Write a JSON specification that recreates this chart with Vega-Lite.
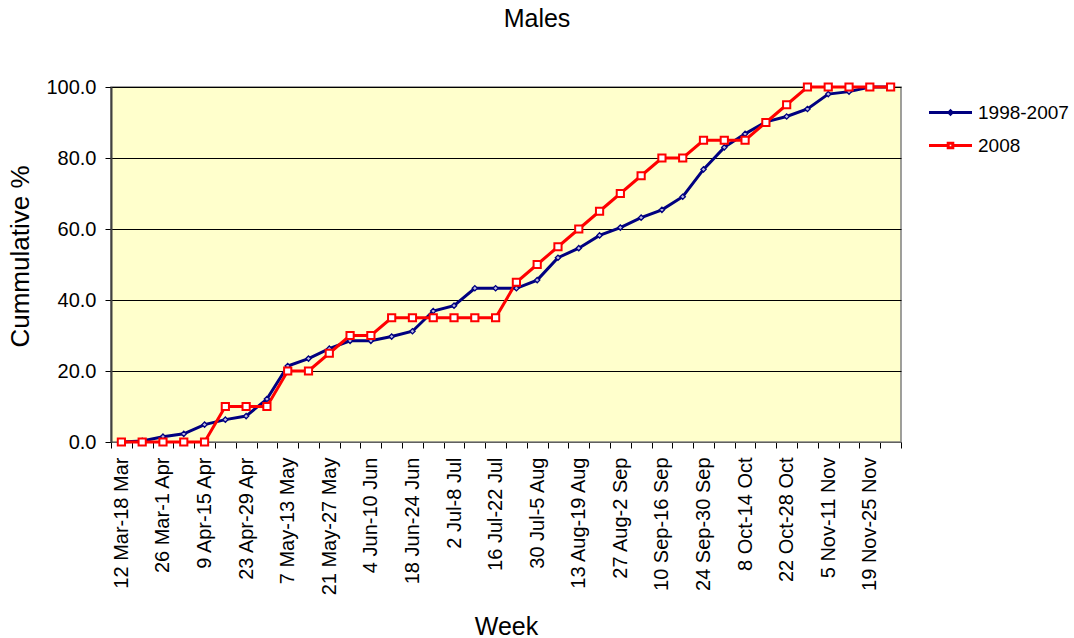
{
  "$schema": "https://vega.github.io/schema/vega-lite/v6.json",
  "autosize": "none",
  "width": 790,
  "height": 355,
  "padding": {"left": 111, "top": 87, "right": 173, "bottom": 196},
  "background": "white",
  "title": {"text": "Males", "fontSize": 25, "font": "Liberation Sans", "fontWeight": "normal", "color": "black", "anchor": "middle", "dx": 31, "offset": 45},
  "config": {
    "font": "Liberation Sans",
    "view": {"fill": "#FFFFCC", "stroke": "#808080", "strokeWidth": 1.5}
  },
  "data": {"values": [
    {"week": "12 Mar-18 Mar", "series": "1998-2007", "value": 0},
    {"week": "19 Mar-25 Mar", "series": "1998-2007", "value": 0.3},
    {"week": "26 Mar-1 Apr", "series": "1998-2007", "value": 1.5},
    {"week": "2 Apr-8 Apr", "series": "1998-2007", "value": 2.3},
    {"week": "9 Apr-15 Apr", "series": "1998-2007", "value": 4.9},
    {"week": "16 Apr-22 Apr", "series": "1998-2007", "value": 6.3},
    {"week": "23 Apr-29 Apr", "series": "1998-2007", "value": 7.3},
    {"week": "30 Apr-6 May", "series": "1998-2007", "value": 12.1},
    {"week": "7 May-13 May", "series": "1998-2007", "value": 21.4},
    {"week": "14 May-20 May", "series": "1998-2007", "value": 23.5},
    {"week": "21 May-27 May", "series": "1998-2007", "value": 26.3},
    {"week": "28 May-3 Jun", "series": "1998-2007", "value": 28.5},
    {"week": "4 Jun-10 Jun", "series": "1998-2007", "value": 28.5},
    {"week": "11 Jun-17 Jun", "series": "1998-2007", "value": 29.7},
    {"week": "18 Jun-24 Jun", "series": "1998-2007", "value": 31.2},
    {"week": "25 Jun-1 Jul", "series": "1998-2007", "value": 36.9},
    {"week": "2 Jul-8 Jul", "series": "1998-2007", "value": 38.4},
    {"week": "9 Jul-15 Jul", "series": "1998-2007", "value": 43.3},
    {"week": "16 Jul-22 Jul", "series": "1998-2007", "value": 43.3},
    {"week": "23 Jul-29 Jul", "series": "1998-2007", "value": 43.3},
    {"week": "30 Jul-5 Aug", "series": "1998-2007", "value": 45.6},
    {"week": "6 Aug-12 Aug", "series": "1998-2007", "value": 51.9},
    {"week": "13 Aug-19 Aug", "series": "1998-2007", "value": 54.6},
    {"week": "20 Aug-26 Aug", "series": "1998-2007", "value": 58.2},
    {"week": "27 Aug-2 Sep", "series": "1998-2007", "value": 60.4},
    {"week": "3 Sep-9 Sep", "series": "1998-2007", "value": 63.2},
    {"week": "10 Sep-16 Sep", "series": "1998-2007", "value": 65.4},
    {"week": "17 Sep-23 Sep", "series": "1998-2007", "value": 69.1},
    {"week": "24 Sep-30 Sep", "series": "1998-2007", "value": 76.8},
    {"week": "1 Oct-7 Oct", "series": "1998-2007", "value": 83.0},
    {"week": "8 Oct-14 Oct", "series": "1998-2007", "value": 86.8},
    {"week": "15 Oct-21 Oct", "series": "1998-2007", "value": 90.2},
    {"week": "22 Oct-28 Oct", "series": "1998-2007", "value": 91.7},
    {"week": "29 Oct-4 Nov", "series": "1998-2007", "value": 93.8},
    {"week": "5 Nov-11 Nov", "series": "1998-2007", "value": 98.0},
    {"week": "12 Nov-18 Nov", "series": "1998-2007", "value": 98.7},
    {"week": "19 Nov-25 Nov", "series": "1998-2007", "value": 100},
    {"week": "26 Nov-2 Dec", "series": "1998-2007", "value": 100},
    {"week": "12 Mar-18 Mar", "series": "2008", "value": 0},
    {"week": "19 Mar-25 Mar", "series": "2008", "value": 0},
    {"week": "26 Mar-1 Apr", "series": "2008", "value": 0},
    {"week": "2 Apr-8 Apr", "series": "2008", "value": 0},
    {"week": "9 Apr-15 Apr", "series": "2008", "value": 0},
    {"week": "16 Apr-22 Apr", "series": "2008", "value": 10},
    {"week": "23 Apr-29 Apr", "series": "2008", "value": 10},
    {"week": "30 Apr-6 May", "series": "2008", "value": 10},
    {"week": "7 May-13 May", "series": "2008", "value": 20},
    {"week": "14 May-20 May", "series": "2008", "value": 20},
    {"week": "21 May-27 May", "series": "2008", "value": 25},
    {"week": "28 May-3 Jun", "series": "2008", "value": 30},
    {"week": "4 Jun-10 Jun", "series": "2008", "value": 30},
    {"week": "11 Jun-17 Jun", "series": "2008", "value": 35},
    {"week": "18 Jun-24 Jun", "series": "2008", "value": 35},
    {"week": "25 Jun-1 Jul", "series": "2008", "value": 35},
    {"week": "2 Jul-8 Jul", "series": "2008", "value": 35},
    {"week": "9 Jul-15 Jul", "series": "2008", "value": 35},
    {"week": "16 Jul-22 Jul", "series": "2008", "value": 35},
    {"week": "23 Jul-29 Jul", "series": "2008", "value": 45},
    {"week": "30 Jul-5 Aug", "series": "2008", "value": 50},
    {"week": "6 Aug-12 Aug", "series": "2008", "value": 55},
    {"week": "13 Aug-19 Aug", "series": "2008", "value": 60},
    {"week": "20 Aug-26 Aug", "series": "2008", "value": 65},
    {"week": "27 Aug-2 Sep", "series": "2008", "value": 70},
    {"week": "3 Sep-9 Sep", "series": "2008", "value": 75},
    {"week": "10 Sep-16 Sep", "series": "2008", "value": 80},
    {"week": "17 Sep-23 Sep", "series": "2008", "value": 80},
    {"week": "24 Sep-30 Sep", "series": "2008", "value": 85},
    {"week": "1 Oct-7 Oct", "series": "2008", "value": 85},
    {"week": "8 Oct-14 Oct", "series": "2008", "value": 85},
    {"week": "15 Oct-21 Oct", "series": "2008", "value": 90},
    {"week": "22 Oct-28 Oct", "series": "2008", "value": 95},
    {"week": "29 Oct-4 Nov", "series": "2008", "value": 100},
    {"week": "5 Nov-11 Nov", "series": "2008", "value": 100},
    {"week": "12 Nov-18 Nov", "series": "2008", "value": 100},
    {"week": "19 Nov-25 Nov", "series": "2008", "value": 100},
    {"week": "26 Nov-2 Dec", "series": "2008", "value": 100}
  ]},
  "encoding": {
    "x": {
      "field": "week", "type": "nominal", "sort": null,
      "scale": {"type": "band", "paddingInner": 0, "paddingOuter": 0},
      "axis": {
        "title": "Week", "titleFontSize": 25, "titleFontWeight": "normal", "titleColor": "black",
        "titleX": 395, "titleY": 184, "titleBaseline": "middle", "titleAlign": "center",
        "labelAngle": -90, "labelFontSize": 20, "labelColor": "black", "labelPadding": 9,
        "labelOverlap": false, "labelBound": false,
        "labelExpr": "round(scale('x', datum.value) / bandwidth('x')) % 2 == 0 ? datum.label : ''",
        "tickBand": "extent", "ticks": true, "tickSize": 6, "tickColor": "black", "tickWidth": 1,
        "domainColor": "#606060", "domainWidth": 1, "grid": false
      }
    },
    "y": {
      "field": "value", "type": "quantitative",
      "scale": {"domain": [0, 100], "nice": false, "zero": true},
      "axis": {
        "title": "Cummulative %", "titleFontSize": 26, "titleFontWeight": "normal", "titleColor": "black",
        "titleX": -91, "titleY": 169, "titleAngle": -90, "titleBaseline": "middle", "titleAlign": "center",
        "values": [0, 20, 40, 60, 80, 100], "format": ".1f",
        "labelFontSize": 20, "labelColor": "black", "labelPadding": 9,
        "tickSize": 6, "tickColor": "black", "tickWidth": 1,
        "domainColor": "#404040", "domainWidth": 2,
        "grid": true, "gridColor": "black", "gridWidth": 1
      }
    }
  },
  "layer": [
    {
      "mark": {"type": "line", "strokeWidth": 3},
      "encoding": {
        "color": {
          "field": "series", "type": "nominal",
          "scale": {"domain": ["1998-2007", "2008"], "range": ["#000080", "#FF0000"]},
          "legend": {
            "title": null, "orient": "none", "legendX": 828, "legendY": 14,
            "padding": 0, "symbolSize": 400, "rowPadding": 11, "labelOffset": 16,
            "labelFontSize": 19, "labelColor": "black", "symbolStrokeWidth": 3,
            "encode": {
              "symbols": {"update": {
                "shape": {"signal": "datum.value === '2008' ? 'M-2.15,0H-0.23M0.23,0H2.15M-0.23,-0.23H0.23V0.23H-0.23Z' : 'M-2.15,0H-0.16M0.16,0H2.15M-0.16,0L0,-0.16L0.16,0L0,0.16Z'"},
                "fill": {"value": "white"},
                "strokeWidth": {"value": 3},
                "opacity": {"value": 1}
              }}
            }
          }
        }
      }
    },
    {
      "transform": [{"filter": "datum.series === '1998-2007'"}],
      "mark": {"type": "point", "shape": "diamond", "size": 28, "filled": false, "fill": "#B8B8E0", "stroke": "#000080", "strokeWidth": 1.3, "opacity": 1}
    },
    {
      "transform": [{"filter": "datum.series === '2008'"}],
      "mark": {"type": "point", "shape": "square", "size": 52, "filled": false, "fill": "white", "stroke": "#FF0000", "strokeWidth": 2, "opacity": 1}
    }
  ]
}
